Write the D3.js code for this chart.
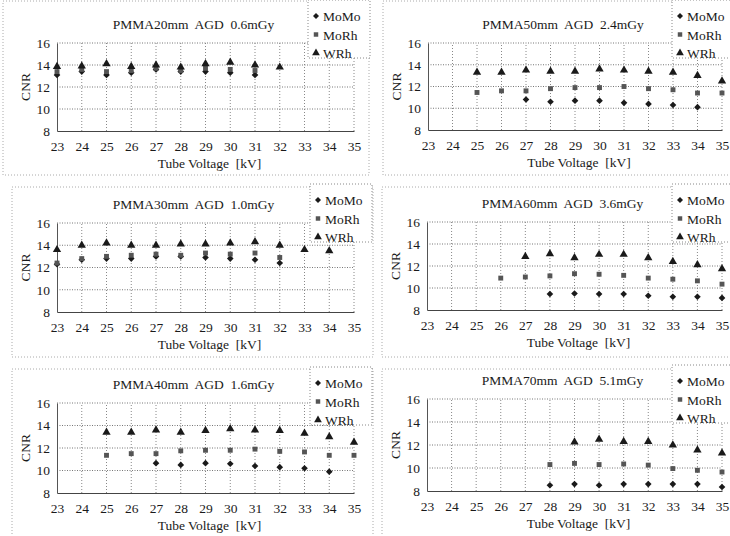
<!DOCTYPE html>
<html>
<head>
<meta charset="utf-8">
<script src="https://cdn.jsdelivr.net/npm/d3@7"></script>
<style>
  body { margin: 0; background: #fff; }
  svg text { font-family: "Liberation Serif", "DejaVu Serif", serif; fill: #1a1a1a; }
</style>
</head>
<body>
<div id="chart"></div>
<script>
// tube voltage categories and axis ticks
var kv = [23, 24, 25, 26, 27, 28, 29, 30, 31, 32, 33, 34, 35];
var cnrTicks = [8, 10, 12, 14, 16];
var seriesNames = ["MoMo", "MoRh", "WRh"];
var titles = [
  "PMMA20mm  AGD  0.6mGy", "PMMA50mm  AGD  2.4mGy",
  "PMMA30mm  AGD  1.0mGy", "PMMA60mm  AGD  3.6mGy",
  "PMMA40mm  AGD  1.6mGy", "PMMA70mm  AGD  5.1mGy"
];

// CNR values, one entry per kV (null = not measured)
var momo20 = [13.1, 13.4, 13.1, 13.3, 13.6, 13.4, 13.4, 13.3, 13.1, null, null, null, null];
var morh20 = [13.4, 13.6, 13.4, 13.5, 13.7, 13.5, 13.7, 13.6, 13.5, null, null, null, null];
var wrh20  = [13.85, 13.9, 14.1, 13.85, 14.0, 13.8, 14.1, 14.25, 14.0, 13.8, null, null, null];

var momo30 = [12.3, 12.7, 12.8, 12.8, 13.0, 13.0, 12.9, 12.8, 12.7, 12.4, null, null, null];
var morh30 = [12.4, 12.8, 13.0, 13.1, 13.2, 13.1, 13.3, 13.2, 13.3, 12.9, null, null, null];
var wrh30  = [13.6, 14.0, 14.2, 14.0, 14.0, 14.1, 14.1, 14.2, 14.3, 14.0, 13.6, 13.5, null];

var momo40 = [null, null, null, null, 10.65, 10.5, 10.65, 10.6, 10.4, 10.3, 10.2, 9.9, null];
var morh40 = [null, null, 11.35, 11.5, 11.5, 11.75, 11.8, 11.8, 11.9, 11.7, 11.65, 11.35, 11.35];
var wrh40  = [null, null, 13.4, 13.4, 13.6, 13.4, 13.55, 13.7, 13.6, 13.55, 13.3, 13.0, 12.5];

var momo50 = [null, null, null, null, 10.8, 10.6, 10.7, 10.7, 10.5, 10.4, 10.3, 10.1, null];
var morh50 = [null, null, 11.45, 11.6, 11.6, 11.8, 11.9, 11.9, 12.0, 11.8, 11.7, 11.4, 11.4];
var wrh50  = [null, null, 13.3, 13.3, 13.5, 13.4, 13.4, 13.6, 13.5, 13.4, 13.3, 13.0, 12.5];

var momo60 = [null, null, null, null, null, 9.45, 9.5, 9.45, 9.45, 9.3, 9.2, 9.2, 9.1];
var morh60 = [null, null, null, 10.9, 11.0, 11.1, 11.3, 11.25, 11.15, 10.9, 10.8, 10.65, 10.35];
var wrh60  = [null, null, null, null, 12.85, 13.1, 12.75, 13.05, 13.05, 12.75, 12.4, 12.1, 11.75];

var momo70 = [null, null, null, null, null, 8.5, 8.6, 8.5, 8.6, 8.6, 8.6, 8.6, 8.35];
var morh70 = [null, null, null, null, null, 10.3, 10.4, 10.3, 10.35, 10.25, 9.95, 9.8, 9.65];
var wrh70  = [null, null, null, null, null, null, 12.25, 12.5, 12.3, 12.3, 12.0, 11.55, 11.3];

// panel positions on the page
var panels = [
  {series: [momo20, morh20, wrh20], left: 57, right: 354, top: 43, bottom: 131, box: [3, 1, 369, 175], legend: [308, 0]},
  {series: [momo50, morh50, wrh50], left: 428, right: 722, top: 43, bottom: 130, box: [383, 1, 740, 175], legend: [672, 0]},
  {series: [momo30, morh30, wrh30], left: 57, right: 354, top: 223, bottom: 312, box: [12, 187, 373, 357], legend: [310, 184]},
  {series: [momo60, morh60, wrh60], left: 427, right: 722, top: 222, bottom: 310, box: [382, 187, 740, 357], legend: [672, 184]},
  {series: [momo40, morh40, wrh40], left: 57, right: 354, top: 403, bottom: 493, box: [12, 369, 373, 545], legend: [310, 367]},
  {series: [momo70, morh70, wrh70], left: 427, right: 722, top: 399, bottom: 491, box: [382, 369, 740, 545], legend: [672, 365]}
];

// diamond = square turned 45 degrees
var symbols = [d3.symbolSquare, d3.symbolSquare, d3.symbolTriangle];
var symRot = [45, 0, 0];
var symSize = [22, 24, 30];
var symFill = ["#1a1a1a", "#555", "#1a1a1a"];

var svg = d3.select("#chart").append("svg")
    .attr("width", 730)
    .attr("height", 536);

panels.forEach(function(p, pi) {
  var g = svg.append("g");

  // outer dotted frame
  g.append("rect")
    .attr("x", p.box[0]).attr("y", p.box[1])
    .attr("width", p.box[2] - p.box[0]).attr("height", p.box[3] - p.box[1])
    .attr("fill", "none")
    .attr("stroke", "#aaa")
    .attr("stroke-dasharray", "1,2");

  var x = d3.scaleLinear().domain([23, 35]).range([p.left, p.right]);
  var y = d3.scaleLinear().domain([8, 16]).range([p.bottom, p.top]);

  // grid
  g.append("g").selectAll("line")
    .data(kv.slice(1))
    .enter().append("line")
    .attr("x1", d => x(d)).attr("x2", d => x(d))
    .attr("y1", y(8)).attr("y2", y(16))
    .attr("stroke", "#888")
    .attr("stroke-dasharray", "1,2");

  g.append("g").selectAll("line")
    .data(cnrTicks.slice(1))
    .enter().append("line")
    .attr("x1", x(23)).attr("x2", x(35))
    .attr("y1", d => y(d)).attr("y2", d => y(d))
    .attr("stroke", "#777")
    .attr("stroke-dasharray", "1,1.5");

  // axes
  var xAxis = g.append("g")
    .attr("transform", "translate(0," + y(8) + ")")
    .call(d3.axisBottom(x).tickValues(kv).tickSize(0).tickPadding(10).tickFormat(d3.format("d")));
  xAxis.attr("font-family", null).attr("font-size", null);
  xAxis.select(".domain").attr("stroke", "#444");
  xAxis.selectAll("text").style("font-size", "13.5px");

  var yAxis = g.append("g")
    .attr("transform", "translate(" + x(23) + ",0)")
    .call(d3.axisLeft(y).tickValues(cnrTicks).tickSize(0).tickPadding(7));
  yAxis.attr("font-family", null).attr("font-size", null);
  yAxis.select(".domain").attr("stroke", "#555");
  yAxis.selectAll("text").style("font-size", "13.5px");

  // axis titles and panel title
  g.append("text")
    .attr("x", (p.left + p.right) / 2 + 4)
    .attr("y", p.bottom + 37)
    .attr("text-anchor", "middle")
    .style("font-size", "13.5px")
    .style("white-space", "pre")
    .text("Tube Voltage  [kV]");

  g.append("text")
    .attr("transform", "translate(" + (p.left - 27) + "," + ((p.top + p.bottom) / 2) + ") rotate(-90)")
    .attr("text-anchor", "middle")
    .style("font-size", "13.5px")
    .text("CNR");

  g.append("text")
    .attr("x", (p.left + p.right) / 2 - 12)
    .attr("y", p.top - 14)
    .attr("text-anchor", "middle")
    .style("font-size", "13.5px")
    .style("white-space", "pre")
    .text(titles[pi]);

  // data points
  p.series.forEach(function(vals, si) {
    var pts = vals.map((v, i) => ({kv: kv[i], v: v})).filter(d => d.v !== null);
    g.append("g").selectAll("path")
      .data(pts)
      .enter().append("path")
      .attr("d", d3.symbol().type(symbols[si]).size(symSize[si]))
      .attr("transform", d => "translate(" + x(d.kv) + "," + y(d.v) + ") rotate(" + symRot[si] + ")")
      .attr("fill", symFill[si]);
  });

  // legend
  var lg = g.append("g").attr("transform", "translate(" + p.legend[0] + "," + p.legend[1] + ")");
  lg.append("rect")
    .attr("width", 62).attr("height", 58)
    .attr("fill", "#fff")
    .attr("stroke", "#888")
    .attr("stroke-dasharray", "1,2");
  seriesNames.forEach(function(name, si) {
    var yy = 17 + si * 18.5;
    lg.append("path")
      .attr("d", d3.symbol().type(symbols[si]).size(symSize[si] - 4))
      .attr("transform", "translate(8," + (yy - 1) + ") rotate(" + symRot[si] + ")")
      .attr("fill", symFill[si]);
    lg.append("text")
      .attr("x", 15).attr("y", yy + 4)
      .style("font-size", "13.5px")
      .text(name);
  });
});
</script>
</body>
</html>
